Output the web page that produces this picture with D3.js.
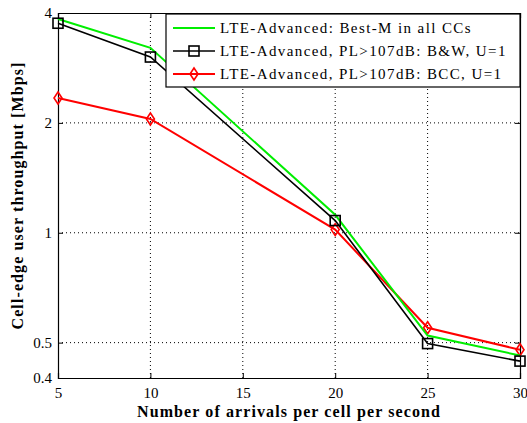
<!DOCTYPE html>
<html>
<head>
<meta charset="utf-8">
<script src="https://cdn.jsdelivr.net/npm/d3@7"></script>
<style>
  body { margin: 0; background: #fff; }
  svg text { font-family: "Liberation Serif", "DejaVu Serif", serif; }
</style>
</head>
<body>
<svg id="chart" width="527" height="423"></svg>
<script>
const arrivals = [5, 10, 20, 25, 30];
const bestM = [3.85, 3.21, 1.12, 0.523, 0.461];
const bw = [3.75, 3.03, 1.08, 0.497, 0.445];
const bcc = [2.34, 2.05, 1.02, 0.549, 0.478];
const xTicks = [5, 10, 15, 20, 25, 30];
const yTicks = [0.4, 0.5, 1, 2, 4];
const seriesNames = [
  "LTE-Advanced: Best-M in all CCs",
  "LTE-Advanced, PL>107dB: B&W, U=1",
  "LTE-Advanced, PL>107dB: BCC, U=1"
];

const svg = d3.select("#chart");
const margin = { top: 13, right: 7, bottom: 45, left: 58 };
const width = 527, height = 423;
const x = d3.scaleLinear().domain([5, 30]).range([margin.left, width - margin.right]);
const y = d3.scaleLog().domain([0.4, 4]).range([height - margin.bottom, margin.top]);

// grid
const grid = svg.append("g");
grid.selectAll("line.gx").data(xTicks.slice(1, -1)).enter().append("line")
  .attr("x1", d => x(d)).attr("x2", d => x(d))
  .attr("y1", y(0.4)).attr("y2", y(4))
  .attr("stroke", "#000").attr("stroke-width", 1).attr("stroke-dasharray", "1,3");
grid.selectAll("line.gy").data(yTicks.slice(1, -1)).enter().append("line")
  .attr("x1", x(5)).attr("x2", x(30))
  .attr("y1", d => y(d)).attr("y2", d => y(d))
  .attr("stroke", "#000").attr("stroke-width", 1).attr("stroke-dasharray", "1,3");

// axes
svg.append("g")
  .attr("transform", `translate(0,${y(0.4)})`)
  .call(d3.axisBottom(x).tickValues(xTicks).tickSize(-5).tickPadding(9).tickFormat(d3.format("d")));
svg.append("g")
  .attr("transform", `translate(${x(5)},0)`)
  .call(d3.axisLeft(y).tickValues(yTicks).tickSize(-5).tickPadding(6).tickFormat(d => d));
svg.append("g").attr("transform", `translate(0,${y(4)})`)
  .call(d3.axisTop(x).tickValues(xTicks).tickSize(-5).tickFormat(""));
svg.append("g").attr("transform", `translate(${x(30)},0)`)
  .call(d3.axisRight(y).tickValues(yTicks).tickSize(-5).tickFormat(""));
svg.selectAll(".domain").attr("stroke", "#000").attr("stroke-width", 1.2);
svg.selectAll(".tick line").attr("stroke", "#000");
svg.selectAll(".tick text").attr("font-size", 15).attr("fill", "#000")
  .style("font-family", "'Liberation Serif', serif");

// axis labels
svg.append("text")
  .attr("x", (x(5) + x(30)) / 2).attr("y", 417)
  .attr("text-anchor", "middle").attr("font-size", 16).attr("font-weight", "bold")
  .attr("letter-spacing", 1.1)
  .text("Number of arrivals per cell per second");
svg.append("text")
  .attr("transform", `translate(23,${(y(0.4) + y(4)) / 2}) rotate(-90)`)
  .attr("text-anchor", "middle").attr("font-size", 16).attr("font-weight", "bold")
  .attr("letter-spacing", 1.1)
  .text("Cell-edge user throughput [Mbps]");

// lines
const line = d3.line().x(d => x(d[0])).y(d => y(d[1]));
const series = [
  { vals: bestM, color: "#00ee00", w: 2, marker: null },
  { vals: bw, color: "#000", w: 1.6, marker: "square" },
  { vals: bcc, color: "#ff0000", w: 2, marker: "diamond" }
];
const plot = svg.append("g");
function drawMarker(g, type, cx, cy, color) {
  if (type === "square") {
    g.append("rect").attr("x", cx - 5).attr("y", cy - 5).attr("width", 10).attr("height", 10)
      .attr("fill", "none").attr("stroke", color).attr("stroke-width", 1.6);
  } else if (type === "diamond") {
    g.append("path").attr("d", `M${cx},${cy - 6}L${cx + 4},${cy}L${cx},${cy + 6}L${cx - 4},${cy}Z`)
      .attr("fill", "none").attr("stroke", color).attr("stroke-width", 1.6);
  }
}
// red first, then green, black on top
[2, 0, 1].forEach(i => {
  const s = series[i];
  const pts = arrivals.map((a, j) => [a, s.vals[j]]);
  plot.append("path").datum(pts).attr("d", line)
    .attr("fill", "none").attr("stroke", s.color).attr("stroke-width", s.w);
  pts.forEach(p => { if (s.marker) drawMarker(plot, s.marker, x(p[0]), y(p[1]), s.color); });
});

// legend
const lg = svg.append("g");
lg.append("rect").attr("x", 166).attr("y", 14).attr("width", x(30) - 166).attr("height", 73)
  .attr("fill", "#fff").attr("stroke", "#000").attr("stroke-width", 1.2);
const rowY = [28, 51, 74];
series.forEach((s, i) => {
  lg.append("line").attr("x1", 173).attr("x2", 215).attr("y1", rowY[i]).attr("y2", rowY[i])
    .attr("stroke", s.color).attr("stroke-width", s.w);
  if (s.marker) drawMarker(lg, s.marker, 194, rowY[i], s.color);
  lg.append("text").attr("x", 220).attr("y", rowY[i] + 5).attr("font-size", 15)
    .attr("letter-spacing", 1.4)
    .text(seriesNames[i]);
});
</script>
</body>
</html>
